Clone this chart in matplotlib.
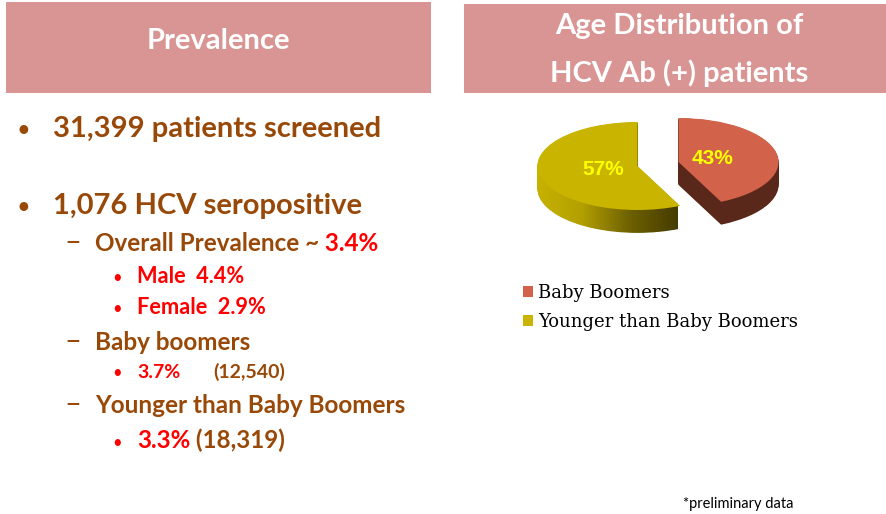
import matplotlib.pyplot as plt
import numpy as np
from matplotlib.colors import LinearSegmentedColormap

plt.rcParams['font.family'] = ['Lato', 'DejaVu Sans']

### Values
groups = ['Baby Boomers', 'Younger than Baby Boomers']
shares = [43, 57]
screened = '31,399'
seropositive = '1,076'
overall_rate = '3.4%'
male_rate = '4.4%'
female_rate = '2.9%'
boomer_rate, boomer_n = '3.7%', '12,540'
younger_rate, younger_n = '3.3%', '18,319'

brown = '#984807'
red = '#ff0000'
pink = '#d99594'
top_cols = ['#d2634a', '#c9b400']
red_side = '#5a271b'

fig = plt.figure(figsize=(8.87, 5.14), dpi=100)

### Background axes in pixel units for boxes and text
bg = fig.add_axes([0, 0, 1, 1])
bg.set_xlim(0, 887); bg.set_ylim(514, 0)
bg.axis('off')

bg.add_patch(plt.Rectangle((6, 2), 425, 91, color=pink, lw=0))
bg.add_patch(plt.Rectangle((464, 4), 423, 89, color=pink, lw=0))
bg.text(218, 41, 'Prevalence', color='white', fontsize=21, fontweight='bold', ha='center', va='center')
bg.text(679, 26, 'Age Distribution of', color='white', fontsize=21, fontweight='bold', ha='center', va='center')
bg.text(679, 73, 'HCV Ab (+) patients', color='white', fontsize=21, fontweight='bold', ha='center', va='center')


def line(x, y, parts, size):
    t = None
    for txt, col in parts:
        if t is None:
            t = bg.text(x, y, txt, color=col, fontsize=size, fontweight='bold', va='baseline')
        else:
            t = bg.annotate(txt, xy=(1, 0), xycoords=t, color=col, fontsize=size,
                            fontweight='bold', va='bottom')
    return t


def bullet(x, y, col, size):
    bg.text(x, y, '\u2022', color=col, fontsize=size, va='baseline')


def dash(y):
    bg.text(64, y, '\u2013', color=brown, fontsize=21, va='baseline')


### Left column
bullet(17, 137, brown, 17)
line(53, 137, [(screened + ' patients screened', brown)], 21)
bullet(17, 214, brown, 17)
line(53, 214, [(seropositive + ' HCV seropositive', brown)], 21)

dash(251)
line(95, 251, [('Overall Prevalence ~', brown), (' ' + overall_rate, red)], 17.5)
bullet(112, 283, red, 12)
line(137, 283, [('Male  ' + male_rate, red)], 15.7)
bullet(112, 314, red, 12)
line(137, 314, [('Female  ' + female_rate, red)], 15.7)

dash(350)
line(95, 350, [('Baby boomers', brown)], 17.5)
bullet(112, 378, red, 12)
line(137, 378, [(boomer_rate, red)], 14)
line(213, 378, [('(' + boomer_n + ')', brown)], 14)

dash(413)
line(95, 413, [('Younger than Baby Boomers', brown)], 17.5)
bullet(112, 448, red, 12)
line(137, 448, [(younger_rate, red), (' (' + younger_n + ')', brown)], 17.4)

bg.text(683, 508, '*preliminary data', color='black', fontsize=10.5, va='baseline')

### 3D-looking pie: darker copies stacked downwards, then the top face
pax = fig.add_axes([518 / 887, 1 - 250 / 514, 280 / 887, 150 / 514])
explode = [0.21, 0.21]
depth = 0.52
ycmap = LinearSegmentedColormap.from_list('yside', ['#c9b400', '#b3a000', '#6e6100', '#453c00'])
grad = np.linspace(0, 1, 256).reshape(1, -1)

for d in np.linspace(depth, 0.01, 36):
    ws, _ = pax.pie(shares, startangle=90, counterclock=False, explode=explode,
                    center=(0, -d), colors=[red_side, 'none'], wedgeprops=dict(linewidth=0))
    im = pax.imshow(grad, cmap=ycmap, extent=(-1.25, 0.2, -2, 1.2), aspect='auto', zorder=1)
    im.set_clip_path(ws[1])

wedges, _, pcts = pax.pie(shares, startangle=90, counterclock=False, explode=explode,
                          colors=top_cols, autopct='%d%%', pctdistance=0.35,
                          wedgeprops=dict(linewidth=0),
                          textprops=dict(color='#ffff00', fontsize=15, fontweight='bold',
                                         family='Liberation Sans'))
pax.set_aspect('auto')
pax.set_xlim(-1.4, 1.4); pax.set_ylim(-1.955, 1.455)
pax.axis('off')

fig.legend(wedges, groups, loc='upper left', bbox_to_anchor=(523 / 887, 1 - 284 / 514),
           frameon=False, prop=dict(family='DejaVu Serif', size=13),
           handlelength=0.55, handleheight=0.55, handletextpad=0.3, labelspacing=0.62,
           borderpad=0, borderaxespad=0)

fig.savefig('out.png', dpi=100)
